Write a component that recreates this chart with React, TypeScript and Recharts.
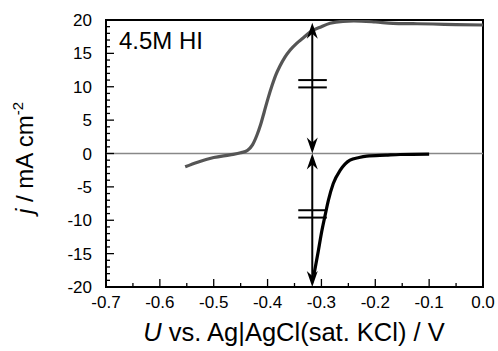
import React from 'react'
import {
  ComposedChart,
  Line,
  XAxis,
  YAxis,
  ReferenceLine,
  ReferenceArea,
  Label,
} from 'recharts'

// potential (V vs Ag|AgCl) and current density (mA cm-2)
const anodicV = [-0.553, -0.53, -0.5, -0.47, -0.45, -0.437, -0.428, -0.42, -0.413, -0.406, -0.399, -0.392, -0.385, -0.377, -0.368, -0.358, -0.346, -0.334, -0.321, -0.3, -0.284, -0.26, -0.24, -0.2, -0.167, -0.13, -0.093, -0.05, 0.0]
const anodicJ = [-2.0, -1.3, -0.6, -0.2, 0.1, 0.5, 1.3, 2.7, 4.3, 6.3, 8.3, 10.1, 11.7, 13.1, 14.4, 15.5, 16.5, 17.3, 18.2, 19.0, 19.5, 19.8, 19.85, 19.7, 19.5, 19.45, 19.4, 19.3, 19.25]

const cathodicV = [-0.314, -0.306, -0.2995, -0.293, -0.287, -0.278, -0.265, -0.247, -0.23, -0.216, -0.18, -0.154, -0.1]
const cathodicJ = [-18.2, -14.7, -11.7, -9.2, -7.0, -4.5, -2.5, -1.0, -0.6, -0.4, -0.25, -0.15, -0.1]

const xTicks = [-0.7, -0.65, -0.6, -0.55, -0.5, -0.45, -0.4, -0.35, -0.3, -0.25, -0.2, -0.15, -0.1, -0.05, 0.0]
const xMajor = [-0.7, -0.6, -0.5, -0.4, -0.3, -0.2, -0.1, 0.0]
const xLabels = ['-0.7', '-0.6', '-0.5', '-0.4', '-0.3', '-0.2', '-0.1', '0.0']

const yTicks = [
  -20, -19, -18, -17, -16, -15, -14, -13, -12, -11, -10, -9, -8, -7, -6, -5, -4, -3, -2, -1, 0,
  1, 2, 3, 4, 5, 6, 7, 8, 9, 10, 11, 12, 13, 14, 15, 16, 17, 18, 19, 20,
]
const yMajor = [-20, -15, -10, -5, 0, 5, 10, 15, 20]

// arrow marking the limiting currents, and the "=" break marks on it
const arrowV = -0.317
const arrowTop = 19.6
const arrowBottom = -20
const breakV = [-0.343, -0.29]
const breakJ = [11.0, 9.9, -8.5, -9.6]

const anodic = anodicV.map((v, i) => ({ v, j: anodicJ[i] }))
const cathodic = cathodicV.map((v, i) => ({ v, j: cathodicJ[i] }))

const FONT = '"Liberation Sans", Arial, Helvetica, sans-serif'

const near = (list: number[], v: number) => list.findIndex((m) => Math.abs(m - v) < 1e-6)

function XTick(props: any) {
  const { x, y, payload } = props
  const idx = near(xMajor, payload.value)
  const major = idx >= 0
  return (
    <g>
      <line x1={x} x2={x} y1={y} y2={y - (major ? 8 : 4)} stroke="#000" strokeWidth={1.3} />
      {major && (
        <text x={x} y={y + 21} textAnchor="middle" fontSize={17} fontFamily={FONT} fill="#000">
          {xLabels[idx]}
        </text>
      )}
    </g>
  )
}

function YTick(props: any) {
  const { x, y, payload } = props
  const major = near(yMajor, payload.value) >= 0
  return (
    <g>
      <line x1={x} x2={x + (major ? 8 : 4)} y1={y} y2={y} stroke="#000" strokeWidth={1.3} />
      {major && (
        <text x={x - 14} y={y + 6} textAnchor="end" fontSize={17} fontFamily={FONT} fill="#000">
          {payload.value}
        </text>
      )}
    </g>
  )
}

function head(tx: number, ty: number, dir: number) {
  // dir: +1 points down, -1 points up
  const len = 16
  const half = 5.5
  const notch = 11
  return `M${tx},${ty} L${tx - half},${ty - dir * len} L${tx},${ty - dir * notch} L${tx + half},${ty - dir * len} Z`
}

function DoubleArrow(props: any) {
  const { x1, y1, x2, y2 } = props
  const top = Math.min(y1, y2)
  const bottom = Math.max(y1, y2)
  return (
    <g>
      <line x1={x1} x2={x2} y1={top + 4} y2={bottom - 4} stroke="#000" strokeWidth={2} />
      <path d={head(x1, top, -1)} fill="#000" />
      <path d={head(x1, bottom, 1)} fill="#000" />
    </g>
  )
}

export default function App() {
  return (
    <div style={{ position: 'absolute', left: 0, top: 0, background: '#fff' }}>
      <ComposedChart width={498} height={351} margin={{ top: 20, right: 15, bottom: 0, left: 0 }}>
        <XAxis
          type="number"
          dataKey="v"
          domain={[-0.7, 0]}
          ticks={xTicks}
          interval={0}
          allowDataOverflow
          height={64}
          axisLine={false}
          tickLine={false}
          tickSize={0}
          tickMargin={0}
          tick={XTick}
        >
          <Label
            content={() => (
              <text x={294} y={341} textAnchor="middle" fontSize={25.5} fontFamily={FONT} fill="#000">
                <tspan fontStyle="italic">U</tspan> vs. Ag|AgCl(sat. KCl) / V
              </text>
            )}
          />
        </XAxis>
        <YAxis
          type="number"
          domain={[-20, 20]}
          ticks={yTicks}
          interval={0}
          allowDataOverflow
          width={106}
          axisLine={false}
          tickLine={false}
          tickSize={0}
          tickMargin={0}
          tick={YTick}
        >
          <Label
            content={() => (
              <text
                x={33}
                y={158}
                transform="rotate(-90 33 158)"
                textAnchor="middle"
                fontSize={24}
                fontFamily={FONT}
                fill="#000"
              >
                <tspan fontStyle="italic">j</tspan> / mA cm
                <tspan fontSize={15} dy={-10}>-2</tspan>
              </text>
            )}
          />
        </YAxis>

        <ReferenceLine y={0} stroke="#888" strokeWidth={1.5} />

        <Line
          data={anodic}
          dataKey="j"
          type="monotone"
          stroke="#555"
          strokeWidth={3.2}
          dot={false}
          activeDot={false}
          isAnimationActive={false}
        />
        <Line
          data={cathodic}
          dataKey="j"
          type="monotone"
          stroke="#000"
          strokeWidth={3.2}
          dot={false}
          activeDot={false}
          isAnimationActive={false}
        />

        <ReferenceLine
          segment={[{ x: arrowV, y: 0 }, { x: arrowV, y: arrowTop }]}
          shape={DoubleArrow}
        />
        <ReferenceLine
          segment={[{ x: arrowV, y: arrowBottom }, { x: arrowV, y: 0 }]}
          shape={DoubleArrow}
        />
        {breakJ.map((j) => (
          <ReferenceLine
            key={j}
            segment={[{ x: breakV[0], y: j }, { x: breakV[1], y: j }]}
            stroke="#000"
            strokeWidth={2}
          />
        ))}

        <ReferenceArea x1={-0.7} x2={0} y1={-20} y2={20} fill="none" stroke="#000" strokeWidth={2}>
          <Label
            content={(p: any) => (
              <text
                x={p.viewBox.x + 13}
                y={p.viewBox.y + 29}
                fontSize={24}
                fontFamily={FONT}
                fill="#000"
              >
                4.5M HI
              </text>
            )}
          />
        </ReferenceArea>
      </ComposedChart>
    </div>
  )
}
